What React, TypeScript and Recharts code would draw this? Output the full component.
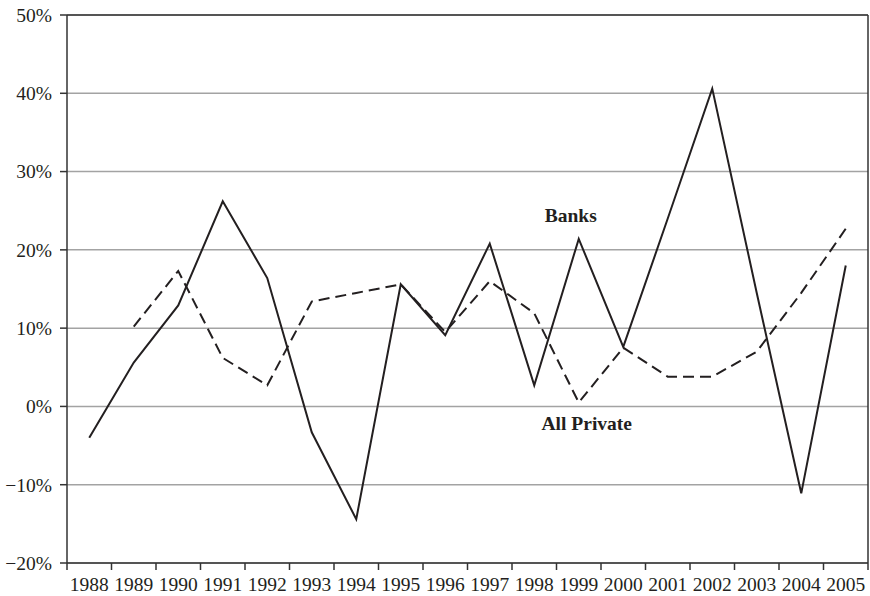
import React from 'react';
import { LineChart, Line, XAxis, YAxis, CartesianGrid, ReferenceDot, ReferenceLine } from 'recharts';

// Annual growth, 1988-2005
const years = [1988, 1989, 1990, 1991, 1992, 1993, 1994, 1995, 1996, 1997, 1998, 1999, 2000, 2001, 2002, 2003, 2004, 2005];
const banks = [-4.0, 5.6, 12.9, 26.2, 16.4, -3.3, -14.4, 15.6, 9.1, 20.8, 2.7, 21.4, 7.6, 24.0, 40.6, 14.5, -11.1, 18.0];
const allPrivate = [null, 10.2, 17.3, 6.2, 2.7, 13.4, 14.5, 15.6, 9.5, 16.0, 11.9, 0.5, 7.5, 3.8, 3.8, 7.0, 14.5, 22.7];
const yTicks = [-20, -10, 0, 10, 20, 30, 40, 50];

const data = years.map((year, i) => ({ i, year, banks: banks[i], allPrivate: allPrivate[i] }));

// tick marks sit on the band edges, labels in the band middles
const edgeTicks = years.concat([0]).map((_, i) => i - 0.5);
const centerTicks = years.map((_, i) => i);
const xDomain = [-0.5, years.length - 0.5];

const FONT = '"Liberation Serif", "Times New Roman", serif';
const INK = '#231f20';
const AXIS = '#333';

const fmtPct = (v: number) => `${v < 0 ? '\u2212' + Math.abs(v) : v}%`;

export default function App() {
  return (
    <div style={{ position: 'absolute', left: 0, top: 0, width: 870, height: 596, background: '#fff' }}>
      <LineChart width={870} height={596} data={data} margin={{ top: 15, right: 2, left: 0, bottom: 0 }}>
        <CartesianGrid xAxisId="a_edge" yAxisId="left" vertical={false} stroke="#a3a3a3" strokeWidth={1.5} />
        <XAxis
          xAxisId="a_edge"
          type="number"
          dataKey="i"
          domain={xDomain}
          ticks={edgeTicks}
          interval={0}
          tick={{ fontSize: 0, fill: 'none' }}
          tickFormatter={() => ''}
          tickSize={7}
          tickLine={{ stroke: AXIS, strokeWidth: 1.5 }}
          height={7}
          stroke={AXIS}
          strokeWidth={1.5}
        />
        <XAxis
          xAxisId="b_lbl"
          type="number"
          dataKey="i"
          domain={xDomain}
          ticks={centerTicks}
          interval={0}
          axisLine={false}
          tickLine={false}
          tickSize={0}
          tickMargin={7}
          height={26}
          tickFormatter={(v: number) => String(years[v])}
          tick={{ fontSize: 19.5, fill: INK, fontFamily: FONT }}
        />
        <YAxis
          yAxisId="left"
          type="number"
          domain={[-20, 50]}
          ticks={yTicks}
          interval={0}
          width={67}
          tickSize={7}
          tickMargin={8}
          tickFormatter={fmtPct}
          stroke={AXIS}
          strokeWidth={1.5}
          tick={{ fontSize: 19.5, fill: INK, fontFamily: FONT }}
        />
        {/* frame on top and right */}
        <ReferenceLine xAxisId="a_edge" yAxisId="left" y={50} stroke={AXIS} strokeWidth={1.5} />
        <ReferenceLine xAxisId="a_edge" yAxisId="left" x={years.length - 0.5} stroke={AXIS} strokeWidth={1.5} />
        <Line
          xAxisId="a_edge"
          yAxisId="left"
          type="linear"
          dataKey="allPrivate"
          stroke={INK}
          strokeWidth={2}
          strokeDasharray="11 6"
          dot={false}
          activeDot={false}
          connectNulls={false}
          isAnimationActive={false}
        />
        <Line
          xAxisId="a_edge"
          yAxisId="left"
          type="linear"
          dataKey="banks"
          stroke={INK}
          strokeWidth={2}
          dot={false}
          activeDot={false}
          isAnimationActive={false}
        />
        <ReferenceDot
          xAxisId="a_edge"
          yAxisId="left"
          x={10.82}
          y={24.4}
          r={0}
          fill="none"
          stroke="none"
          label={{ value: 'Banks', position: 'center', fontSize: 19.5, fontWeight: 700, fill: INK, fontFamily: FONT }}
        />
        <ReferenceDot
          xAxisId="a_edge"
          yAxisId="left"
          x={11.18}
          y={-2.1}
          r={0}
          fill="none"
          stroke="none"
          label={{ value: 'All Private', position: 'center', fontSize: 19.5, fontWeight: 700, fill: INK, fontFamily: FONT }}
        />
      </LineChart>
    </div>
  );
}
